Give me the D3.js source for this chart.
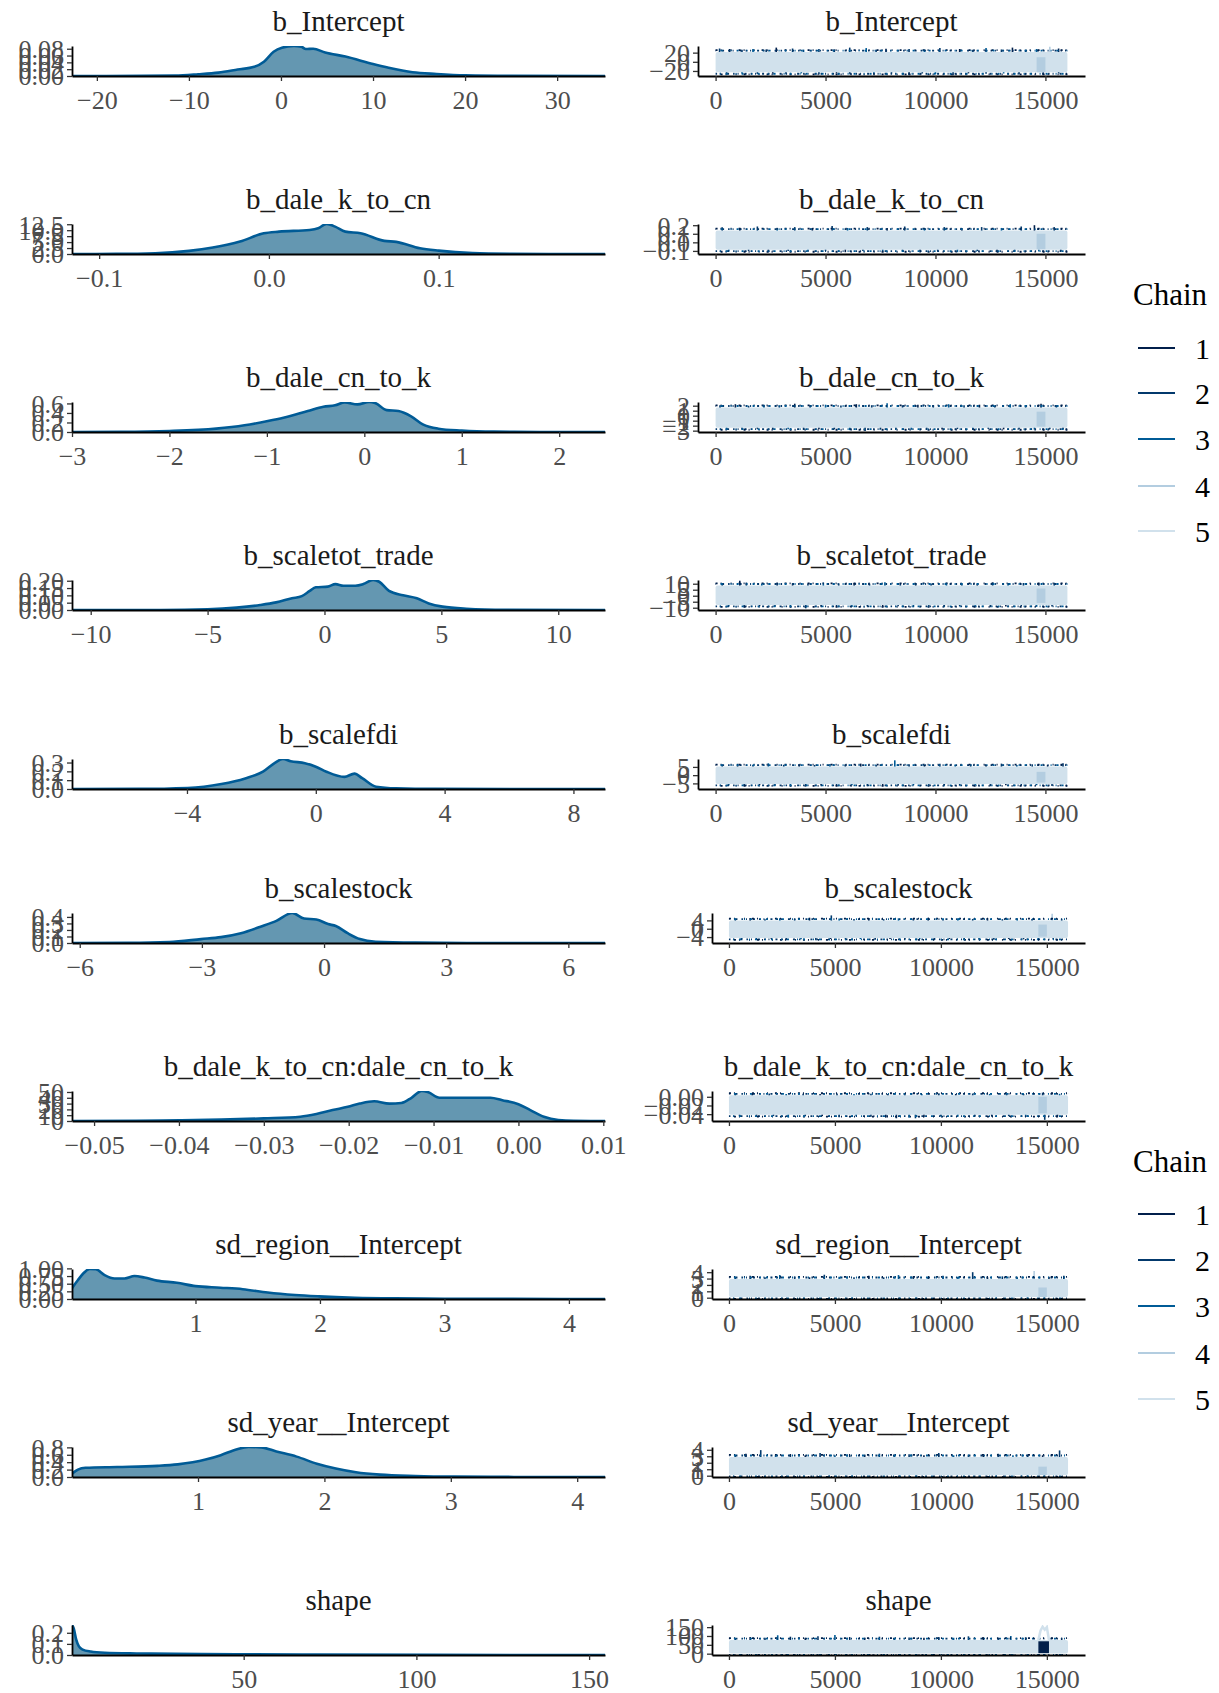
<!DOCTYPE html>
<html>
<head>
<meta charset="utf-8">
<script src="https://cdn.jsdelivr.net/npm/d3@7"></script>
<style>
body { margin: 0; background: #fff; }
svg text { font-family: "Liberation Serif", "Times New Roman", serif; }
</style>
</head>
<body>
<svg id="chart" width="1219" height="1693"></svg>
<script>
// Data
const params = ['b_Intercept', 'b_dale_k_to_cn', 'b_dale_cn_to_k', 'b_scaletot_trade', 'b_scalefdi',
  'b_scalestock', 'b_dale_k_to_cn:dale_cn_to_k', 'sd_region__Intercept', 'sd_year__Intercept', 'shape'];

const chainLabels = ['1', '2', '3', '4', '5'];
const chainColors = ['#011f4b', '#03396c', '#005b96', '#b3cde0', '#d1e1ec'];

// density curves, [value, density]
const densIntercept = [[-22.7,0],[-15,0.0003],[-11.5,0.001],[-9,0.005],[-6.8,0.010],[-4.7,0.019],[-2.9,0.027],[-1.85,0.042],[-0.8,0.071],[0.1,0.083],[1.4,0.088],[2.2,0.086],[2.7,0.079],[3.5,0.080],[4.8,0.069],[7,0.057],[10,0.035],[11.7,0.024],[14.3,0.011],[16.9,0.006],[20,0.002],[25,0.0004],[35.2,0]];
const densKtoCn = [[-0.116,0],[-0.09,0.05],[-0.067,0.3],[-0.047,1.3],[-0.033,2.7],[-0.017,5.2],[-0.003,8.7],[0.006,9.4],[0.024,10.1],[0.029,10.8],[0.034,12.6],[0.039,11.5],[0.045,9.4],[0.054,8.7],[0.068,5.5],[0.075,5.1],[0.089,2.4],[0.1,1.4],[0.12,0.4],[0.143,0.1],[0.17,0.02],[0.198,0]];
const densCnToK = [[-3.0,0],[-2.5,0.003],[-2.0,0.02],[-1.52,0.07],[-1.23,0.14],[-0.99,0.23],[-0.83,0.30],[-0.58,0.44],[-0.42,0.53],[-0.3,0.56],[-0.2,0.62],[-0.07,0.58],[0.05,0.63],[0.11,0.61],[0.23,0.46],[0.35,0.44],[0.48,0.33],[0.6,0.16],[0.76,0.07],[1.0,0.03],[1.33,0.007],[1.8,0.001],[2.47,0]];
const densTrade = [[-10.8,0],[-7,0.0005],[-5,0.005],[-3.76,0.016],[-2.75,0.034],[-2.07,0.052],[-1.39,0.08],[-0.97,0.095],[-0.63,0.13],[-0.37,0.155],[0.14,0.16],[0.47,0.177],[0.81,0.166],[1.32,0.166],[1.66,0.177],[2.08,0.205],[2.34,0.193],[2.76,0.13],[3.36,0.10],[3.95,0.08],[4.46,0.045],[5.05,0.023],[6.07,0.009],[7.76,0.002],[12.0,0]];
const densFdi = [[-7.57,0],[-5.5,0.001],[-3.98,0.011],[-2.93,0.056],[-2.19,0.12],[-1.64,0.196],[-1.27,0.296],[-1.02,0.34],[-0.78,0.315],[-0.34,0.293],[0.02,0.25],[0.33,0.196],[0.89,0.137],[1.2,0.174],[1.44,0.122],[1.87,0.026],[2.49,0.007],[3.7,0.001],[8.98,0]];
const densStock = [[-6.19,0],[-4.8,0.002],[-3.8,0.015],[-3.02,0.06],[-2.53,0.09],[-2.04,0.15],[-1.56,0.25],[-1.17,0.34],[-0.78,0.46],[-0.49,0.375],[-0.19,0.36],[0.1,0.29],[0.29,0.26],[0.58,0.15],[0.88,0.06],[1.27,0.02],[2.24,0.005],[3.5,0.001],[6.9,0]];
const densInteract = [[-0.0526,0],[-0.045,0.5],[-0.04,1],[-0.035,2.3],[-0.03,4.5],[-0.0257,7.4],[-0.0238,12],[-0.0219,18.8],[-0.0201,24.4],[-0.0187,30],[-0.017,34],[-0.0152,30],[-0.0138,31],[-0.0126,40],[-0.0114,51.7],[-0.0107,50],[-0.0093,40],[-0.007,40],[-0.0033,40],[-0.0019,35.8],[0.0,29],[0.0014,18.8],[0.003,7.4],[0.0047,1.7],[0.0065,0.2],[0.0102,0]];
const densSdRegion = [[0.008,0.35],[0.056,0.62],[0.1,0.84],[0.15,0.98],[0.2,0.97],[0.27,0.78],[0.35,0.67],[0.43,0.67],[0.51,0.75],[0.59,0.70],[0.69,0.60],[0.85,0.53],[1.0,0.42],[1.2,0.37],[1.38,0.32],[1.58,0.21],[1.8,0.13],[1.99,0.087],[2.28,0.043],[2.6,0.02],[3.0,0.01],[3.55,0.003],[4.29,0]];
const densSdYear = [[0.003,0.09],[0.05,0.2],[0.11,0.25],[0.36,0.27],[0.68,0.30],[0.84,0.34],[1.06,0.47],[1.18,0.59],[1.31,0.75],[1.4,0.81],[1.5,0.80],[1.62,0.69],[1.78,0.55],[1.94,0.36],[2.09,0.23],[2.25,0.13],[2.44,0.064],[2.72,0.027],[3.03,0.009],[3.5,0.002],[4.22,0]];
const densShape = [[0.3,0.27],[0.8,0.24],[1.5,0.14],[2.3,0.077],[3.4,0.049],[5.7,0.031],[9.8,0.02],[19,0.014],[30,0.011],[47.7,0.006],[70.7,0.003],[105,0.001],[154.6,0]];

const densities = [densIntercept, densKtoCn, densCnToK, densTrade, densFdi, densStock, densInteract, densSdRegion, densSdYear, densShape];

const densXDomains = [[-22.7,35.2],[-0.116,0.198],[-3.0,2.47],[-10.8,12.0],[-7.57,8.98],[-6.19,6.9],[-0.0526,0.0102],[0.008,4.29],[0.003,4.22],[0.3,154.6]];
const densXTicks = [[-20,-10,0,10,20,30],[-0.1,0,0.1],[-3,-2,-1,0,1,2],[-10,-5,0,5,10],[-4,0,4,8],[-6,-3,0,3,6],[-0.05,-0.04,-0.03,-0.02,-0.01,0,0.01],[1,2,3,4],[1,2,3,4],[50,100,150]];
const densXFormats = ['d','.1f','d','d','d','d','.2f','d','d','d'];
const densYTicks = [[0,0.02,0.04,0.06,0.08],[0,2.5,5,7.5,10,12.5],[0,0.2,0.4,0.6],[0,0.05,0.1,0.15,0.2],[0,0.1,0.2,0.3],[0,0.1,0.2,0.3,0.4],[0,10,20,30,40,50],[0,0.25,0.5,0.75,1],[0,0.2,0.4,0.6,0.8],[0,0.1,0.2]];
const densYFormats = ['.2f','.1f','.1f','.2f','.1f','.1f','d','.2f','.1f','.1f'];

// trace panels
const nIter = 16000;
const traceXTicks = [0, 5000, 10000, 15000];
const traceYDomains = [[-31,34.5],[-0.136,0.214],[-3.27,2.74],[-11.9,13.1],[-8.4,9.8],[-6.85,7.55],[-0.0557,0.0133],[-0.206,4.5],[-0.2,4.43],[-7.5,162]];
const traceYTicks = [[-20,0,20],[-0.1,0,0.1,0.2],[-3,-2,-1,0,1,2],[-10,-5,0,5,10],[-5,0,5],[-4,0,4],[-0.04,-0.02,0],[0,1,2,3,4],[0,1,2,3,4],[0,50,100,150]];
const traceYFormats = ['d','.1f','d','d','d','d','.2f','d','d','d'];
// dense part of the chains, [low, high]
const traceBands = [[-23,21.4],[-0.087,0.137],[-2.43,1.66],[-7.65,8.6],[-5.3,5.25],[-4.4,3.95],[-0.0412,0.0036],[0.12,2.95],[0.12,2.9],[1,77]];
// excursions outside the dense part, [iteration, value, chain?]
const traceSpikesUp = [
  [[180,29],[640,28],[1200,26.5],[1700,28],[2300,27],[2760,31],[3500,29],[4000,26.5],[4700,28],[5400,27],[6100,31],[6850,30],[7300,26.5],[7750,28.5],[8800,28],[9500,27],[10200,30],[11100,28],[11700,26.5],[12300,30],[13000,27],[13500,31],[14100,26.5],[14600,28],[15200,33,3],[15600,29]],
  [[300,0.175],[1100,0.168],[1900,0.185],[2800,0.168],[3600,0.178],[4400,0.168],[5300,0.19],[6000,0.168],[6900,0.178],[7800,0.168],[8600,0.185],[9500,0.168],[10400,0.178],[11200,0.168],[12100,0.178],[13000,0.168],[13900,0.185],[14500,0.2],[15400,0.178]],
  [[200,2.1],[900,2.3],[1500,2.0],[2200,2.2],[2900,2.05],[3600,2.4],[4300,2.1],[5000,2.2],[5700,2.05],[6400,2.3],[7100,2.1],[7800,2.5],[8500,2.1],[9200,2.2],[9900,2.05],[10600,2.3],[11300,2.1],[12000,2.2],[12700,2.05],[13400,2.3],[14100,2.1],[14800,2.4],[15500,2.1]],
  [[300,10.3],[1100,12.5],[1400,11],[2100,10.1],[2800,10.8],[3500,10.3],[4200,10.1],[4900,11],[5600,10.3],[6300,10.6],[7000,10.1],[7700,11.2],[8400,10.3],[9100,10.6],[9800,10.1],[10500,10.8],[11200,10.3],[11900,10.1],[12600,11],[13300,10.3],[14000,10.6],[14700,10.1],[15400,10.8]],
  [[300,6.3],[1000,6.9],[1700,6.2],[2400,7.2],[3100,6.3],[3800,6.6],[4500,6.2],[5200,6.8],[5900,6.3],[6600,7.0],[7300,6.2],[8150,9.0],[8800,6.6],[9500,6.3],[10200,6.9],[10900,6.2],[11600,6.6],[12300,6.3],[13000,7.0],[13700,6.2],[14400,6.6],[15100,6.3],[15800,7.2]],
  [[300,4.7],[1000,5.1],[1700,4.6],[2400,5.0],[3100,4.7],[3800,5.3],[4830,6.4],[5200,4.9],[5900,4.7],[6600,5.1],[7300,4.6],[8000,5.0],[8700,4.7],[9400,5.3],[10100,4.6],[10800,5.0],[11500,4.7],[12200,5.1],[12900,4.6],[13600,5.0],[14300,4.7],[15250,7.2,3],[15700,4.8]],
  [[300,0.0068],[1100,0.0064],[1900,0.0075],[2700,0.0064],[3500,0.0068],[4300,0.0064],[5100,0.0075],[5900,0.0064],[6700,0.0068],[7500,0.0064],[8300,0.008],[9100,0.0064],[9900,0.0068],[10700,0.0064],[11500,0.0075],[12300,0.0064],[13100,0.0068],[13900,0.0064],[14800,0.0095],[15600,0.0068]],
  [[300,3.2],[1000,3.45],[1700,3.2],[2400,3.55],[3100,3.3],[3800,3.2],[4500,3.6],[5200,3.3],[5900,3.2],[6600,3.45],[7300,3.2],[8000,3.55],[8700,3.3],[9400,3.2],[10100,3.45],[10800,3.3],[11500,4.0],[12200,3.2],[12900,3.35],[13600,3.2],[14400,4.2,3],[15100,3.3],[15800,3.45]],
  [[300,3.15],[800,3.4],[1500,3.95],[2200,3.15],[2900,3.3],[3600,3.15],[4300,3.5],[5000,3.15],[5700,3.25],[6400,3.15],[7100,3.4],[7800,3.15],[8500,3.3],[9200,3.15],[9900,3.5],[10600,3.15],[11300,3.25],[12000,3.15],[12700,3.4],[13400,3.15],[14100,3.3],[14800,3.15],[15600,3.9]],
  [[300,88],[1000,94],[1700,90],[2300,104],[2900,96],[3600,90],[4200,98],[5000,106],[5700,93],[6400,90],[7100,96],[7800,88],[8500,92],[9200,90],[9900,94],[10600,90],[11300,98],[12000,92],[12700,90],[13300,100],[14000,93],[15700,90]]
];
const traceSpikesDown = [
  [[500,-27],[1200,-25.5],[1900,-26.5],[2600,-25.5],[3200,-26],[3900,-25.2],[4700,-27.5],[5500,-25.5],[6100,-26],[7200,-27],[8000,-25.3],[8800,-29.5],[9400,-25.5],[10000,-27],[10800,-29.5],[11500,-25.3],[12300,-26],[13100,-25.5],[13800,-27],[14900,-25.5],[15600,-25.3]],
  [[600,-0.108],[1500,-0.102],[2400,-0.115],[3300,-0.102],[4200,-0.108],[5000,-0.102],[5900,-0.115],[6700,-0.102],[7600,-0.108],[8500,-0.102],[9300,-0.108],[10100,-0.102],[11000,-0.115],[11900,-0.102],[12800,-0.108],[13600,-0.102],[14700,-0.108],[15700,-0.102]],
  [[500,-2.7],[1200,-2.8],[1900,-2.65],[2600,-2.75],[3300,-2.7],[4000,-2.85],[4700,-2.7],[5400,-2.75],[6100,-2.9],[6800,-3.05],[7500,-2.75],[8200,-2.7],[8900,-2.8],[9600,-2.65],[10300,-2.75],[11000,-2.7],[11700,-2.85],[12400,-2.65],[13100,-2.75],[13800,-2.7],[14500,-2.8],[15200,-2.7],[15800,-2.75]],
  [[600,-9],[1300,-9.6],[2000,-8.8],[2700,-9.2],[3400,-8.9],[4100,-10.5],[4800,-9],[5500,-8.8],[6200,-9.4],[6900,-8.9],[7600,-9.2],[8300,-8.8],[9000,-9.6],[9700,-8.9],[10400,-9.2],[11100,-8.8],[11800,-9.4],[12500,-8.9],[13200,-9],[13900,-8.8],[14600,-9.3],[15300,-8.9]],
  [[600,-6.2],[1300,-6.6],[2000,-6.1],[2700,-6.4],[3400,-6.2],[4100,-6.8],[4800,-6.2],[5500,-6.5],[6200,-6.1],[6900,-6.7],[7600,-6.2],[8300,-6.4],[9000,-6.1],[9700,-6.6],[10400,-6.2],[11100,-6.4],[11800,-6.1],[12500,-6.5],[13200,-6.2],[13900,-6.4],[14600,-6.1],[15300,-6.6]],
  [[600,-5.0],[1300,-5.3],[2000,-4.9],[2700,-5.1],[3400,-5.0],[4100,-5.5],[4800,-4.9],[5500,-5.2],[6200,-5.0],[6900,-5.3],[7600,-4.9],[8300,-5.1],[9000,-5.0],[9700,-5.4],[10400,-4.9],[11100,-5.1],[11800,-5.0],[12500,-5.3],[13200,-4.9],[13900,-5.1],[14600,-5.0],[15300,-5.2]],
  [[500,-0.0445],[1300,-0.046],[2100,-0.0445],[2800,-0.048],[3600,-0.045],[4400,-0.0445],[5200,-0.047],[6000,-0.0445],[6700,-0.046],[7400,-0.048],[7900,-0.0495],[8500,-0.048],[8800,-0.0495],[9200,-0.047],[10000,-0.0445],[10800,-0.046],[11600,-0.0445],[12400,-0.045],[13200,-0.0445],[14000,-0.046],[14900,-0.053],[15500,-0.045]],
  [],
  [],
  []
];
// stretch around 14600-15000 where chain 5 wanders off, [start, end, low, high, chain]
const tracePatches = [[14600,15000,-23,10,3],[14600,15000,-0.08,0.1,3],[14600,15000,-2.2,0.8,3],[14600,15000,-6,6,3],[14600,15000,-4.5,2,3],[14600,15000,-3.8,2,3],[14600,15000,-0.038,0,3],[14600,15000,0.1,1.6,3],[14600,15000,0.1,1.4,3],[14600,15100,3,70,0]];
const shapeStuck = [[14600,77],[14700,130],[14800,152],[14900,135],[15000,150],[15100,77]];

// Layout
const axisY = [76, 254, 432, 610, 789, 943, 1121, 1299, 1477, 1655];
const panelH = 30;
const leftRange = [72, 605];
const rightRangeTop = [698, 1085];
const rightRangeBottom = [712, 1085];
const legendTops = [305, 1172];
const legendRows = [[348, 393, 439, 486, 531], [1214, 1260, 1306, 1353, 1399]];

const svg = d3.select('#chart');
const defs = svg.append('defs');

function styleAxis(g) {
  g.select('.domain').attr('stroke', '#000').attr('stroke-width', 1.8);
  g.selectAll('.tick line').attr('stroke', '#333').attr('stroke-width', 1.3);
  g.selectAll('.tick text').attr('fill', '#4d4d4d').style('font-size', '26px');
}

function addTitle(text, range, yAx) {
  svg.append('text')
    .attr('x', (range[0] + range[1]) / 2)
    .attr('y', yAx - 45)
    .attr('text-anchor', 'middle')
    .attr('fill', '#1a1a1a')
    .style('font-size', '29px')
    .text(text);
}

function addClip(id, range, yAx) {
  defs.append('clipPath').attr('id', id)
    .append('rect')
    .attr('x', range[0]).attr('y', yAx - panelH)
    .attr('width', range[1] - range[0]).attr('height', panelH);
}

// Density panels
function drawDensity(i) {
  const yAx = axisY[i];
  const data = densities[i];
  const x = d3.scaleLinear().domain(densXDomains[i]).range(leftRange);
  const y = d3.scaleLinear().domain([0, d3.max(data, d => d[1])]).range([yAx, yAx - panelH]);
  addClip('cd' + i, leftRange, yAx);

  const g = svg.append('g').attr('clip-path', `url(#cd${i})`);
  g.append('path')
    .datum(data)
    .attr('fill', '#6497b1')
    .attr('d', d3.area().x(d => x(d[0])).y0(yAx).y1(d => y(d[1])).curve(d3.curveMonotoneX));
  g.append('path')
    .datum(data)
    .attr('fill', 'none')
    .attr('stroke', '#005b96')
    .attr('stroke-width', 2.6)
    .attr('d', d3.line().x(d => x(d[0])).y(d => y(d[1])).curve(d3.curveMonotoneX));

  svg.append('g')
    .attr('transform', `translate(0, ${yAx})`)
    .call(d3.axisBottom(x).tickValues(densXTicks[i]).tickFormat(d3.format(densXFormats[i]))
      .tickSizeInner(5).tickSizeOuter(0).tickPadding(10))
    .call(styleAxis);
  svg.append('g')
    .attr('transform', `translate(${leftRange[0]}, 0)`)
    .call(d3.axisLeft(y).tickValues(densYTicks[i]).tickFormat(d3.format(densYFormats[i]))
      .tickSizeInner(5).tickSizeOuter(0).tickPadding(3))
    .call(styleAxis)
    .selectAll('.tick text').attr('dy', '0.34em');

  addTitle(params[i], leftRange, yAx);
}

// Trace panels
function drawTrace(i) {
  const yAx = axisY[i];
  const range = i < 5 ? rightRangeTop : rightRangeBottom;
  const x = d3.scaleLinear().domain([-0.05 * nIter, 1.05 * nIter]).range(range);
  const y = d3.scaleLinear().domain(traceYDomains[i]).range([yAx, yAx - panelH]);
  const band = traceBands[i];
  const mid = (band[0] + band[1]) / 2;
  const spikeChains = [1, 0, 1, 2];
  addClip('ct' + i, range, yAx);

  const g = svg.append('g').attr('clip-path', `url(#ct${i})`);
  const spikes = traceSpikesUp[i].concat(traceSpikesDown[i]);
  g.selectAll('.spike')
    .data(spikes)
    .join('line')
    .attr('class', 'spike')
    .attr('x1', d => x(d[0])).attr('x2', d => x(d[0]))
    .attr('y1', y(mid)).attr('y2', d => y(d[1]))
    .attr('stroke', (d, k) => chainColors[d.length > 2 ? d[2] : spikeChains[k % 4]])
    .attr('stroke-width', 1.6);

  // speckled fringe where the darker chains poke out of the dense band
  [band[0], band[1]].forEach((v, k) => {
    const off = k === 1 ? -1.4 : 1.4;
    [['#03396c', '1.5 3 1 6 2 4'], ['#011f4b', '1 7 2 3 1 9'], ['#005b96', '2 8 1 5']].forEach((s, j) => {
      g.append('line')
        .attr('x1', x(0)).attr('x2', x(nIter))
        .attr('y1', y(v) + off * (j === 1 ? 1.4 : 1)).attr('y2', y(v) + off * (j === 1 ? 1.4 : 1))
        .attr('stroke', s[0])
        .attr('stroke-width', 1.8)
        .attr('stroke-dasharray', s[1])
        .attr('stroke-dashoffset', j * 3 + k * 5);
    });
  });

  g.append('rect')
    .attr('x', x(0)).attr('width', x(nIter) - x(0))
    .attr('y', y(band[1])).attr('height', y(band[0]) - y(band[1]))
    .attr('rx', 2)
    .attr('fill', chainColors[4]);

  const p = tracePatches[i];
  g.append('rect')
    .attr('x', x(p[0])).attr('width', x(p[1]) - x(p[0]))
    .attr('y', y(p[3])).attr('height', y(p[2]) - y(p[3]))
    .attr('fill', chainColors[p[4]]);

  if (params[i] === 'shape') {
    g.append('path')
      .datum(shapeStuck)
      .attr('fill', 'none')
      .attr('stroke', chainColors[4])
      .attr('stroke-width', 2.5)
      .attr('d', d3.line().x(d => x(d[0])).y(d => y(d[1])));
  }

  svg.append('g')
    .attr('transform', `translate(0, ${yAx})`)
    .call(d3.axisBottom(x).tickValues(traceXTicks).tickFormat(d3.format('d'))
      .tickSizeInner(5).tickSizeOuter(0).tickPadding(10))
    .call(styleAxis);
  svg.append('g')
    .attr('transform', `translate(${range[0]}, 0)`)
    .call(d3.axisLeft(y).tickValues(traceYTicks[i]).tickFormat(d3.format(traceYFormats[i]))
      .tickSizeInner(5).tickSizeOuter(0).tickPadding(3))
    .call(styleAxis)
    .selectAll('.tick text').attr('dy', '0.34em');

  addTitle(params[i], range, yAx);
}

d3.range(params.length).forEach(i => {
  drawDensity(i);
  drawTrace(i);
});

// Legends
legendTops.forEach((top, li) => {
  const lg = svg.append('g');
  lg.append('text')
    .attr('x', 1133).attr('y', top)
    .attr('fill', '#000')
    .style('font-size', '31px')
    .text('Chain');
  lg.selectAll('.key')
    .data(chainLabels)
    .join('g')
    .attr('transform', (d, k) => `translate(0, ${legendRows[li][k]})`)
    .each(function (d, k) {
      const e = d3.select(this);
      e.append('line')
        .attr('x1', 1138).attr('x2', 1175)
        .attr('stroke', chainColors[k]).attr('stroke-width', 2.2);
      e.append('text')
        .attr('x', 1195).attr('dy', '0.35em')
        .attr('fill', '#000')
        .style('font-size', '30px')
        .text(d);
    });
});
</script>
</body>
</html>
